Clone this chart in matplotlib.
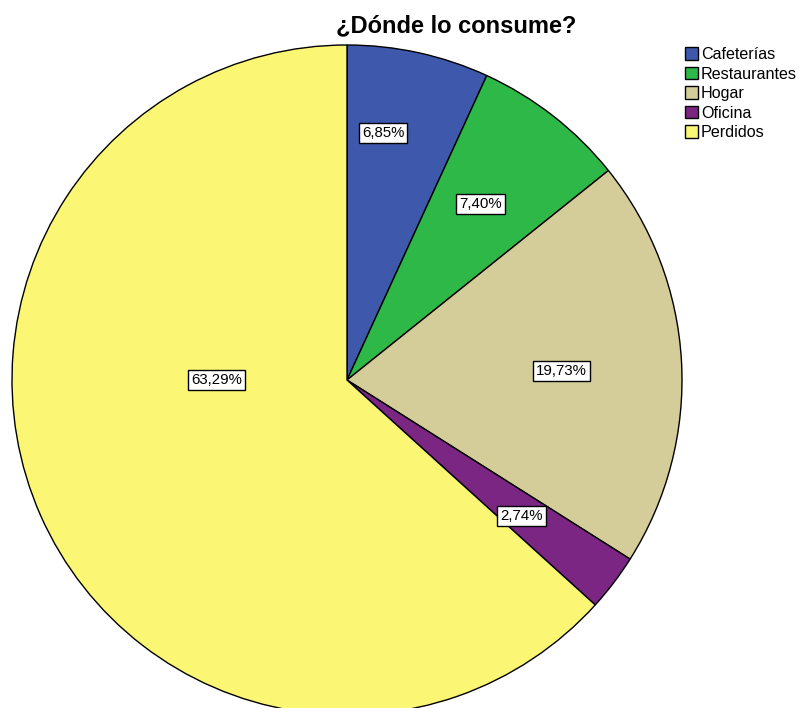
import numpy as np
import matplotlib.pyplot as plt

plt.rcParams['font.family'] = ['Liberation Sans', 'DejaVu Sans']

# Datos
categorias = ['Cafeterías', 'Restaurantes', 'Hogar', 'Oficina', 'Perdidos']
porcentajes = [6.85, 7.40, 19.73, 2.74, 63.29]
colores = ['#3e58ac', '#2eb847', '#d4cd9a', '#7b2682', '#fbf775']
etiquetas = ['6,85%', '7,40%', '19,73%', '2,74%', '63,29%']

fig = plt.figure(figsize=(7.99, 7.08), dpi=100)
ax = fig.add_axes([12 / 799, -7 / 708, 670 / 799, 670 / 708])

wedges, _ = ax.pie(porcentajes, colors=colores, startangle=90, counterclock=False,
                   radius=1.0, wedgeprops=dict(edgecolor='black', linewidth=1.0))
ax.set_xlim(-1, 1)
ax.set_ylim(-1, 1)
ax.set_aspect('auto')
ax.axis('off')

# Posición de las etiquetas (distancia relativa, desplazamiento angular)
dist = [0.745, 0.66, 0.64, 0.66, 0.39]
desv = [4.0, 0.9, -0.8, -0.6, -23.9]
for w, txt, d, a in zip(wedges, etiquetas, dist, desv):
    ang = np.deg2rad((w.theta1 + w.theta2) / 2 + a)
    ax.text(d * np.cos(ang), d * np.sin(ang), txt, ha='center', va='center', fontsize=10.8,
            bbox=dict(boxstyle='square,pad=0.2', facecolor='white', edgecolor='black', linewidth=1.0))

fig.text(456 / 799, 1 - 26 / 708, '¿Dónde lo consume?', ha='center', va='center',
         fontsize=17, fontweight='bold')

leg = fig.legend(wedges, categorias, loc='upper left', bbox_to_anchor=(685 / 799, 1 - 47 / 708),
                 frameon=False, fontsize=11.6, handlelength=0.8, handleheight=0.8,
                 handletextpad=0.2, labelspacing=0.28, borderpad=0, borderaxespad=0)

fig.savefig('out.png', dpi=100)
